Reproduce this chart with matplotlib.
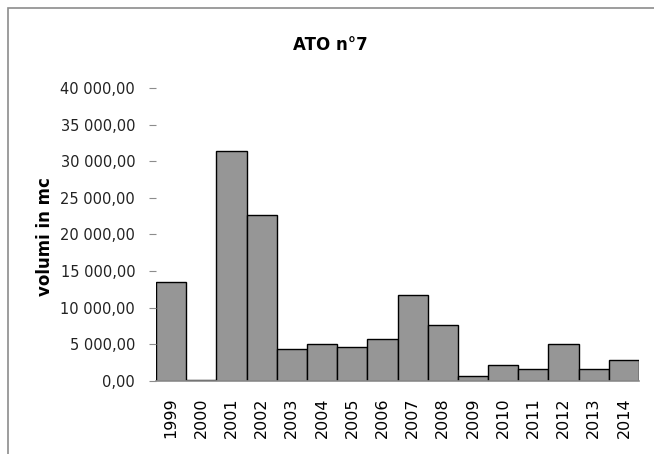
import matplotlib.pyplot as plt
from matplotlib.patches import Rectangle
from matplotlib.ticker import FuncFormatter

# data
years = ['1999', '2000', '2001', '2002', '2003', '2004', '2005', '2006',
         '2007', '2008', '2009', '2010', '2011', '2012', '2013', '2014']
volumes = [13500, 100, 31400, 22700, 4350, 5000, 4700, 5800,
           11800, 7700, 650, 2150, 1700, 5050, 1700, 2800]
y_ticks = [0, 5000, 10000, 15000, 20000, 25000, 30000, 35000, 40000]

W, H = 654, 454
fig = plt.figure(figsize=(W / 100, H / 100), dpi=100)

# outer chart frame (runs off right and bottom edges)
fig.patches.append(Rectangle((8 / W, -0.05), 1.1, 1 - 8 / H + 0.05,
                             transform=fig.transFigure, fill=False,
                             edgecolor='#8c8c8c', linewidth=1.2))

ax = fig.add_axes([156 / W, 1 - 381 / H, (639 - 156) / W, (381 - 88) / H])

x = range(len(years))
ax.bar(x, volumes, width=1.0, color='#969696', edgecolor='black', linewidth=1)

ax.set_xlim(-0.5, len(years) - 0.5)
ax.set_ylim(0, 40000)
ax.set_yticks(y_ticks)


def fmt(v, pos):
    s = f"{v:,.2f}"
    return s.replace(',', ' ').replace('.', ',')


ax.yaxis.set_major_formatter(FuncFormatter(fmt))
ax.set_xticks(list(x))
ax.set_xticklabels(years, rotation=90, fontsize=11.5)

for side in ['top', 'right', 'left']:
    ax.spines[side].set_visible(False)
ax.spines['bottom'].set_color('#8c8c8c')
ax.spines['bottom'].set_linewidth(1.2)

ax.tick_params(axis='y', length=5, color='#8c8c8c', labelsize=10.5, pad=10,
               labelcolor='#222222')
ax.tick_params(axis='x', length=0, pad=12)

ax.set_ylabel('volumi in mc', fontsize=12, fontweight='bold')
ax.yaxis.set_label_coords(-0.212, 0.493)
fig.text(330 / W, 1 - 45 / H, 'ATO n°7', ha='center', va='center',
         fontsize=12, fontweight='bold')

fig.savefig('out.png', dpi=100)
